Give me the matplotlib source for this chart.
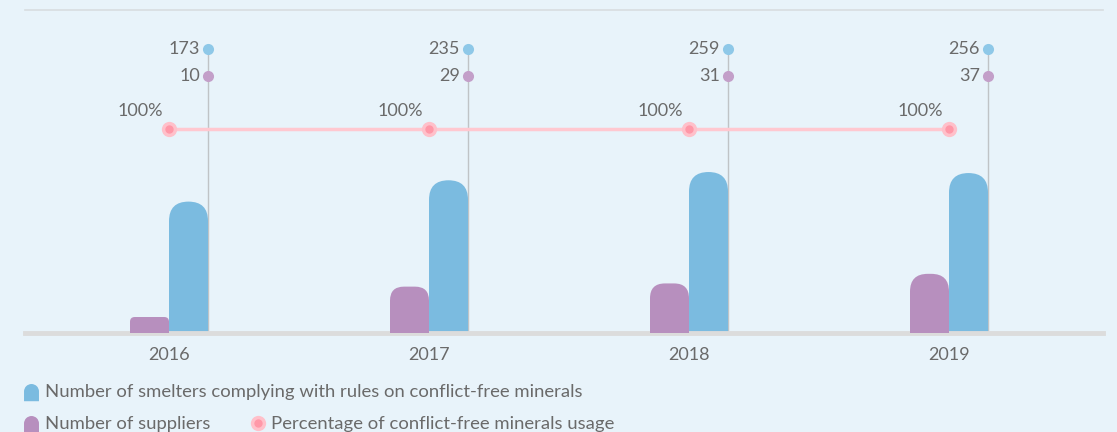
import numpy as np
import matplotlib
matplotlib.use('Agg')
import matplotlib.pyplot as plt
from matplotlib.patches import FancyBboxPatch
from matplotlib.lines import Line2D
from matplotlib.path import Path
import matplotlib.transforms as mtransforms

plt.rcParams['font.family'] = ['Lato', 'DejaVu Sans']

years = ['2016', '2017', '2018', '2019']
smelters = [173, 235, 259, 256]
suppliers = [10, 29, 31, 37]
usage = ['100%', '100%', '100%', '100%']

bg = '#e8f3fa'
c_blue = '#7bbbe0'
c_purple = '#b78fbe'
c_text = '#6a6a6a'

W, H = 1117, 432
fig = plt.figure(figsize=(W / 100, H / 100), dpi=100, facecolor=bg)
# axes box in pixels: x 25..1103, baseline y=333, top y=10
ax = fig.add_axes([25 / W, (H - 333) / H, 1078 / W, 323 / H])
ax.set_facecolor(bg)
ax2 = ax.twinx()
for a in (ax, ax2):
    for s in a.spines.values():
        s.set_visible(False)
    a.set_yticks([])
    a.patch.set_visible(False)
ax.patch.set_visible(True)

px_x = 260.0  # pixels per category
x0 = -(169 - 25) / px_x
ax.set_xlim(x0, x0 + 1078 / px_x)
blue_lo, blue_hi = -209, 730
ax.set_ylim(blue_lo, blue_hi)
ax2.set_ylim(0, 202)

xpix = 1 / px_x
asp_blue = (blue_hi - blue_lo) / 323 / xpix
asp_purple = 202 / 323 / xpix

w = 39 / px_x
x = np.arange(len(years))


def round_bar(a, xc, bottom, top, aspect, color, z):
    h_px = (top - bottom) / (aspect * xpix)
    r = min(w / 2, 0.3 * h_px * xpix)
    b = bottom - r * aspect
    p = FancyBboxPatch((xc - w / 2, b), w, top - b,
                       boxstyle='round,pad=0,rounding_size=%f' % r,
                       mutation_aspect=aspect, fc=color, ec='none', zorder=z)
    a.add_patch(p)


for i in x:
    round_bar(ax, i + w / 2, blue_lo, smelters[i], asp_blue, c_blue, 3)
    round_bar(ax2, i - w / 2, 0, suppliers[i], asp_purple, c_purple, 3)

trans = mtransforms.blended_transform_factory(ax.transData, ax.transAxes)
y_top = (333 - 49) / 323
y_mid = (333 - 76) / 323
y_pct = (333 - 129) / 323

for i in x:
    ax.plot([i + w, i + w], [0, y_top], transform=trans, color='#bfc3c6',
            lw=1, zorder=1)
    ax.plot(i + w, y_top, 'o', ms=8, color='#8ec8e8', mec='none',
            transform=trans, zorder=5)
    ax.plot(i + w, y_mid, 'o', ms=8, color='#c39fc9', mec='none',
            transform=trans, zorder=5)
    ax.text(i + w - 8 / px_x, y_top, str(smelters[i]), transform=trans,
            ha='right', va='center', fontsize=13, color=c_text)
    ax.text(i + w - 8 / px_x, y_mid, str(suppliers[i]), transform=trans,
            ha='right', va='center', fontsize=13, color=c_text)

ax.plot(x, [y_pct] * len(x), transform=trans, color='#ffc8d0', lw=2.5, zorder=2)
ax.plot(x, [y_pct] * len(x), 'o', ms=11, color='#ffc0ca', mec='none',
        transform=trans, zorder=4)
ax.plot(x, [y_pct] * len(x), 'o', ms=6, color='#ff98a8', mec='none',
        transform=trans, zorder=4)
for i in x:
    ax.text(i - 6 / px_x, y_pct + 10 / 323, usage[i], transform=trans,
            ha='right', va='bottom', fontsize=13, color=c_text)

# baseline and top rule
ax.axhline(blue_lo, color='#dcdcdc', lw=3.5, zorder=6, clip_on=False)
ax.axhline(blue_hi, color='#d8dde0', lw=1.2, zorder=6, clip_on=False)

ax.set_xticks(x)
ax.set_xticklabels(years, fontsize=13, color=c_text)
ax.tick_params(axis='x', length=0, pad=10)

# legend
arc = Path.arc(0, 180)
verts = np.concatenate([arc.vertices, [[-1, -1.3], [1, -1.3], [1, 0], [1, 0]]])
codes = list(arc.codes) + [Path.LINETO, Path.LINETO, Path.LINETO, Path.CLOSEPOLY]
cap = Path(verts, codes)

ftr = fig.transFigure
fig.add_artist(Line2D([31 / W], [1 - 391 / H], marker=cap, ms=14, color=c_blue,
                      mec='none', transform=ftr))
fig.text(45 / W, 1 - 392 / H, 'Number of smelters complying with rules on conflict-free minerals',
         ha='left', va='center', fontsize=13.3, color=c_text)
fig.add_artist(Line2D([31 / W], [1 - 423 / H], marker=cap, ms=14, color=c_purple,
                      mec='none', transform=ftr))
fig.text(45 / W, 1 - 424 / H, 'Number of suppliers',
         ha='left', va='center', fontsize=13.3, color=c_text)
fig.add_artist(Line2D([258 / W], [1 - 423 / H], marker='o', ms=11, color='#ffc0ca',
                      mec='none', transform=ftr))
fig.add_artist(Line2D([258 / W], [1 - 423 / H], marker='o', ms=6, color='#ff98a8',
                      mec='none', transform=ftr))
fig.text(271 / W, 1 - 424 / H, 'Percentage of conflict-free minerals usage',
         ha='left', va='center', fontsize=13.3, color=c_text)

fig.savefig('out.png', dpi=100, facecolor=bg)
